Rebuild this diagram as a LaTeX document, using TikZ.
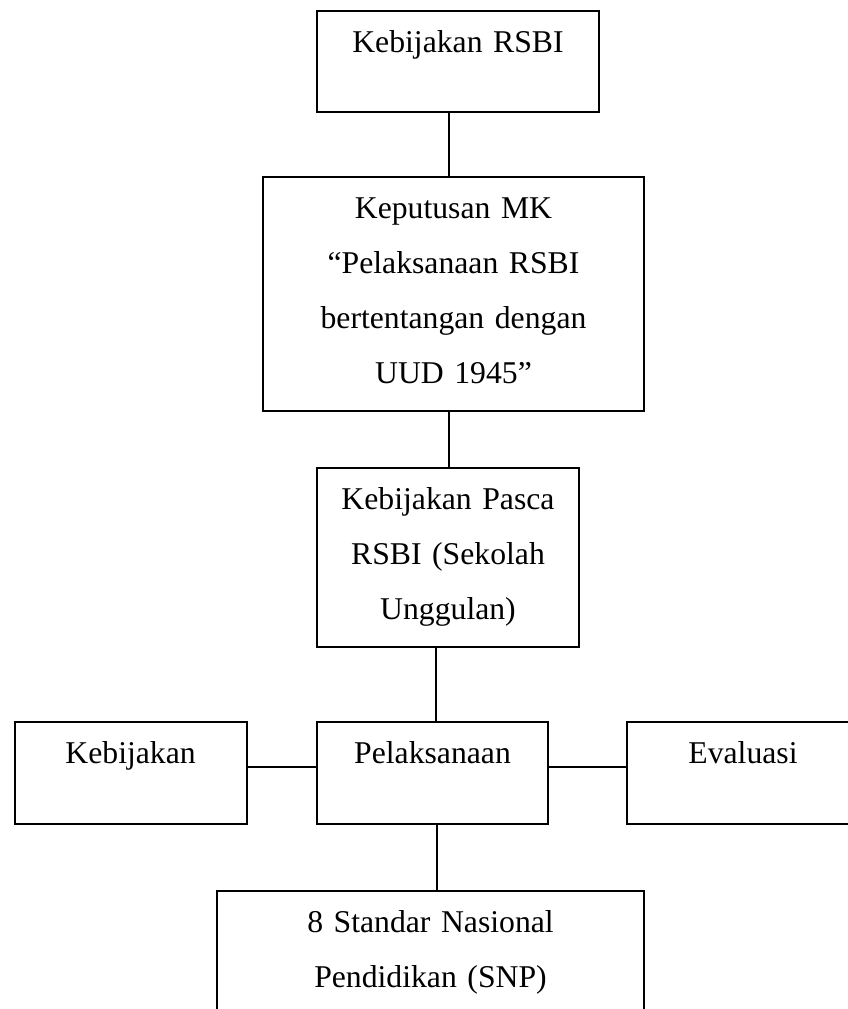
\documentclass[tikz,border=0pt]{standalone}
\usepackage{fontspec}
\setmainfont{Liberation Serif}
\usepackage{tikz}
\usetikzlibrary{positioning}

\begin{document}
\begin{tikzpicture}[
  x=1pt, y=1pt,
  font=\fontsize{31.7pt}{55pt}\selectfont,
  box/.style={draw, line width=2pt, inner sep=0pt, outer sep=0pt,
              align=center, text width=#1, text height=41pt},
  garis/.style={line width=2pt},
]
\useasboundingbox (0,0) rectangle (848,-1009);

%% --- Kotak ---
\node[box=282pt, text depth=60pt, anchor=north] (rsbi) at (458,-11)
      {Kebijakan RSBI};

\node[box=381pt, text depth=193pt, below=65pt of rsbi, xshift=-4.5pt] (mk)
      {Keputusan MK\\“Pelaksanaan RSBI\\bertentangan dengan\\UUD 1945”};

\node[box=262pt, text depth=138pt, below=57pt of mk, xshift=-5.5pt] (pasca)
      {Kebijakan Pasca\\RSBI (Sekolah\\Unggulan)};

\node[box=231pt, text depth=61pt, below=75pt of pasca, xshift=-15.5pt] (pelaksanaan)
      {Pelaksanaan};

\node[box=232pt, text depth=61pt, left=70.4pt of pelaksanaan] (kebijakan)
      {Kebijakan};

\node[box=232pt, text depth=61pt, right=79pt of pelaksanaan] (evaluasi)
      {Evaluasi};

\node[box=427pt, text depth=110pt, below=67pt of pelaksanaan, xshift=-2pt] (snp)
      {8 Standar Nasional\\Pendidikan (SNP)};

%% --- Garis ---
\draw[garis] ([xshift=-9pt]rsbi.south) -- ([xshift=-9pt]rsbi.south |- mk.north);
\draw[garis] ([xshift=-4.5pt]mk.south) -- ([xshift=-4.5pt]mk.south |- pasca.north);
\draw[garis] ([xshift=-12pt]pasca.south) -- ([xshift=-12pt]pasca.south |- pelaksanaan.north);
\draw[garis] ([yshift=6pt]kebijakan.east) -- ([yshift=6pt]kebijakan.east -| pelaksanaan.west);
\draw[garis] ([yshift=6pt]pelaksanaan.east) -- ([yshift=6pt]pelaksanaan.east -| evaluasi.west);
\draw[garis] ([xshift=4.5pt]pelaksanaan.south) -- ([xshift=4.5pt]pelaksanaan.south |- snp.north);

\end{tikzpicture}
\end{document}
